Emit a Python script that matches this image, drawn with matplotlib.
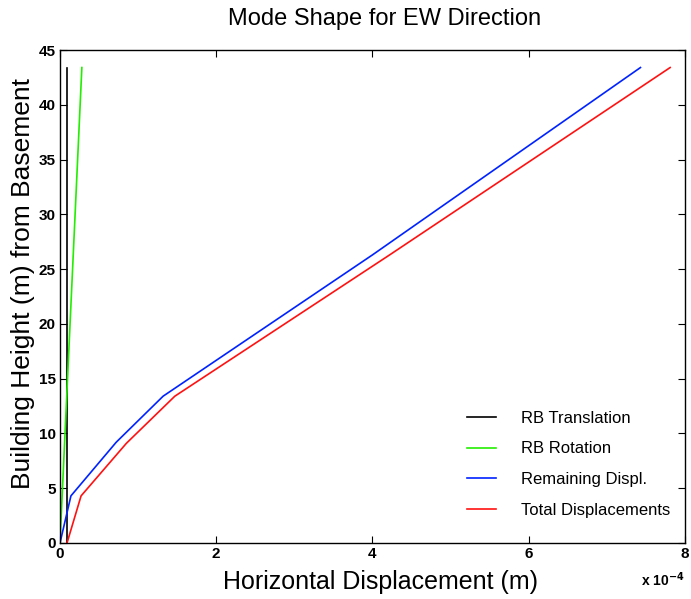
import matplotlib
matplotlib.use("Agg")
import matplotlib.pyplot as plt
from matplotlib.ticker import FuncFormatter

plt.rcParams['font.family'] = ['Liberation Sans', 'DejaVu Sans']

# Data (displacement in m, height in m)
trans_x = [0.09e-4, 0.09e-4]
trans_y = [0.0, 43.4]
rot_x = [0.0, 0.28e-4]
rot_y = [0.0, 43.4]
rem_x = [0.0, 0.14e-4, 0.72e-4, 1.32e-4, 4.0e-4, 7.43e-4]
rem_y = [0.0, 4.3, 9.2, 13.4, 26.3, 43.4]
tot_x = [0.09e-4, 0.27e-4, 0.85e-4, 1.47e-4, 4.22e-4, 7.81e-4]
tot_y = [0.0, 4.3, 9.1, 13.4, 26.3, 43.4]
labels = ['RB Translation', 'RB Rotation', 'Remaining Displ.', 'Total Displacements']
colors = ['black', '#22ee00', '#0022ff', '#ff1111']

fig = plt.figure(figsize=(6.91, 5.99), dpi=100)
ax = fig.add_axes([0.0868, 0.0935, 0.9045, 0.823])

ax.plot(trans_x, trans_y, color=colors[0], lw=1.2, label=labels[0])
ax.plot(rot_x, rot_y, color=colors[1], lw=1.2, label=labels[1])
ax.plot(rem_x, rem_y, color=colors[2], lw=1.2, label=labels[2])
ax.plot(tot_x, tot_y, color=colors[3], lw=1.2, label=labels[3])

ax.set_xlim(0, 8e-4)
ax.set_ylim(0, 45)
ax.set_xticks([0, 2e-4, 4e-4, 6e-4, 8e-4])
ax.set_yticks(range(0, 46, 5))
ax.xaxis.set_major_formatter(FuncFormatter(lambda v, p: '%g' % round(v * 1e4, 6)))
ax.tick_params(direction='in', top=True, right=True, length=5, width=0.8,
               labelsize=11, pad=3)
for lab in ax.get_xticklabels() + ax.get_yticklabels():
    lab.set_fontweight('bold')
for s in ax.spines.values():
    s.set_linewidth(1.0)

ax.set_title('Mode Shape for EW Direction', fontsize=17, x=0.52, pad=18)
ax.set_xlabel('Horizontal Displacement (m)', fontsize=18)
ax.set_ylabel('Building Height (m) from Basement', fontsize=19)
ax.xaxis.set_label_coords(0.513, -0.055, transform=ax.transAxes)
ax.xaxis.label.set_va('top')
ax.yaxis.set_label_coords(-0.04, 0.527, transform=ax.transAxes)

ax.text(1.0, -0.075, r'x 10$^{\mathbf{-4}}$', transform=ax.transAxes,
        ha='right', va='center', fontsize=10, fontweight='bold')

leg = ax.legend(loc='lower right', frameon=False, fontsize=12,
                handlelength=1.7, handletextpad=1.5, labelspacing=0.95,
                bbox_to_anchor=(1.0, 0.02))

fig.savefig('out.png', dpi=100)
